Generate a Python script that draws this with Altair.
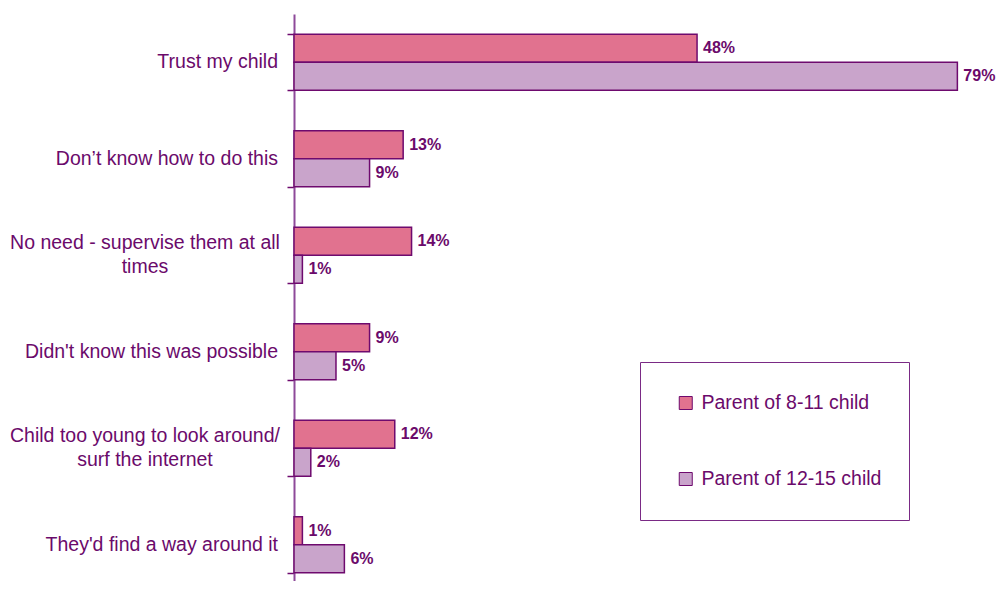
import altair as alt
import pandas as pd

categories = [
    "Trust my child",
    "Don\u2019t know how to do this",
    "No need - supervise them at all|times",
    "Didn't know this was possible",
    "Child too young to look around/|surf the internet",
    "They'd find a way around it",
]
series_names = ["Parent of 8-11 child", "Parent of 12-15 child"]
parent_8_11 = [48, 13, 14, 9, 12, 1]
parent_12_15 = [79, 9, 1, 5, 2, 6]

rows = []
for c, a, b in zip(categories, parent_8_11, parent_12_15):
    rows.append({"category": c, "series": series_names[0], "value": a})
    rows.append({"category": c, "series": series_names[1], "value": b})
df = pd.DataFrame(rows)
cat_df = pd.DataFrame({"category": categories})

TEXT = "#6B0A6B"
STROKE = "#6E0A6E"
AXIS = "#8E4A9A"
FONT = "Liberation Sans"

y_enc = alt.Y(
    "category:N",
    sort=categories,
    scale=alt.Scale(range=[0, 579], paddingInner=0.42, paddingOuter=0.21),
    axis=alt.Axis(
        title=None,
        tickBand="extent",
        domainColor=AXIS,
        domainWidth=2,
        tickColor=STROKE,
        tickSize=7,
        tickWidth=1.5,
        labels=False,
        grid=False,
    ),
)
yoff = alt.YOffset("series:N", sort=series_names, scale=alt.Scale(paddingInner=0, paddingOuter=0))
x_enc = alt.X("value:Q", scale=alt.Scale(domain=[0, 83.6], nice=False), axis=None)

bars = alt.Chart(df).mark_bar(stroke=STROKE, strokeWidth=1.5, cornerRadius=0).encode(
    y=y_enc,
    yOffset=yoff,
    x=x_enc,
    color=alt.Color(
        "series:N",
        sort=series_names,
        scale=alt.Scale(domain=series_names, range=["#E1728F", "#C9A4CB"]),
        legend=alt.Legend(
            title=None,
            orient="none",
            legendX=346,
            legendY=348,
            direction="vertical",
            symbolType="square",
            symbolSize=169,
            symbolStrokeColor=STROKE,
            symbolStrokeWidth=1,
            symbolOffset=9,
            labelFont=FONT,
            labelFontSize=19.5,
            labelColor=TEXT,
            labelOffset=6,
            labelLimit=400,
            clipHeight=28,
            rowPadding=48,
            padding=27,
            strokeColor="#7A2A85",
            fillColor="white",
        ),
    ),
)

labels = alt.Chart(df).transform_calculate(
    lbl="datum.value + '%'"
).mark_text(
    align="left", baseline="middle", dx=6, font=FONT, fontSize=16, fontWeight="bold", color=TEXT
).encode(
    y=alt.Y("category:N", sort=categories),
    yOffset=alt.YOffset("series:N", sort=series_names),
    x=alt.X("value:Q"),
    text="lbl:N",
)

# category labels: one-line labels right-aligned, two-line labels centred line by line
single = alt.Chart(cat_df).transform_filter(
    "indexof(datum.category, '|') < 0"
).mark_text(
    align="right", baseline="middle", font=FONT, fontSize=19.5, color=TEXT
).encode(
    y=alt.Y("category:N", sort=categories),
    x=alt.value(-16),
    text="category:N",
)

double = alt.Chart(cat_df).transform_filter(
    "indexof(datum.category, '|') >= 0"
).mark_text(
    align="center", baseline="middle", font=FONT, fontSize=19.5, color=TEXT,
    lineBreak="|", lineHeight=24, dy=-12
).encode(
    y=alt.Y("category:N", sort=categories),
    x=alt.value(-149),
    text="category:N",
)

chart = (
    alt.layer(bars, labels, single, double)
    .properties(
        width=702,
        height=567,
        autosize=alt.AutoSizeParams(type="none"),
        padding={"left": 286, "top": 6, "right": 0, "bottom": 0},
        background="white",
    )
    .configure_view(stroke=None)
)

chart.save("out.html", embed_options={"renderer": "svg", "actions": False})
